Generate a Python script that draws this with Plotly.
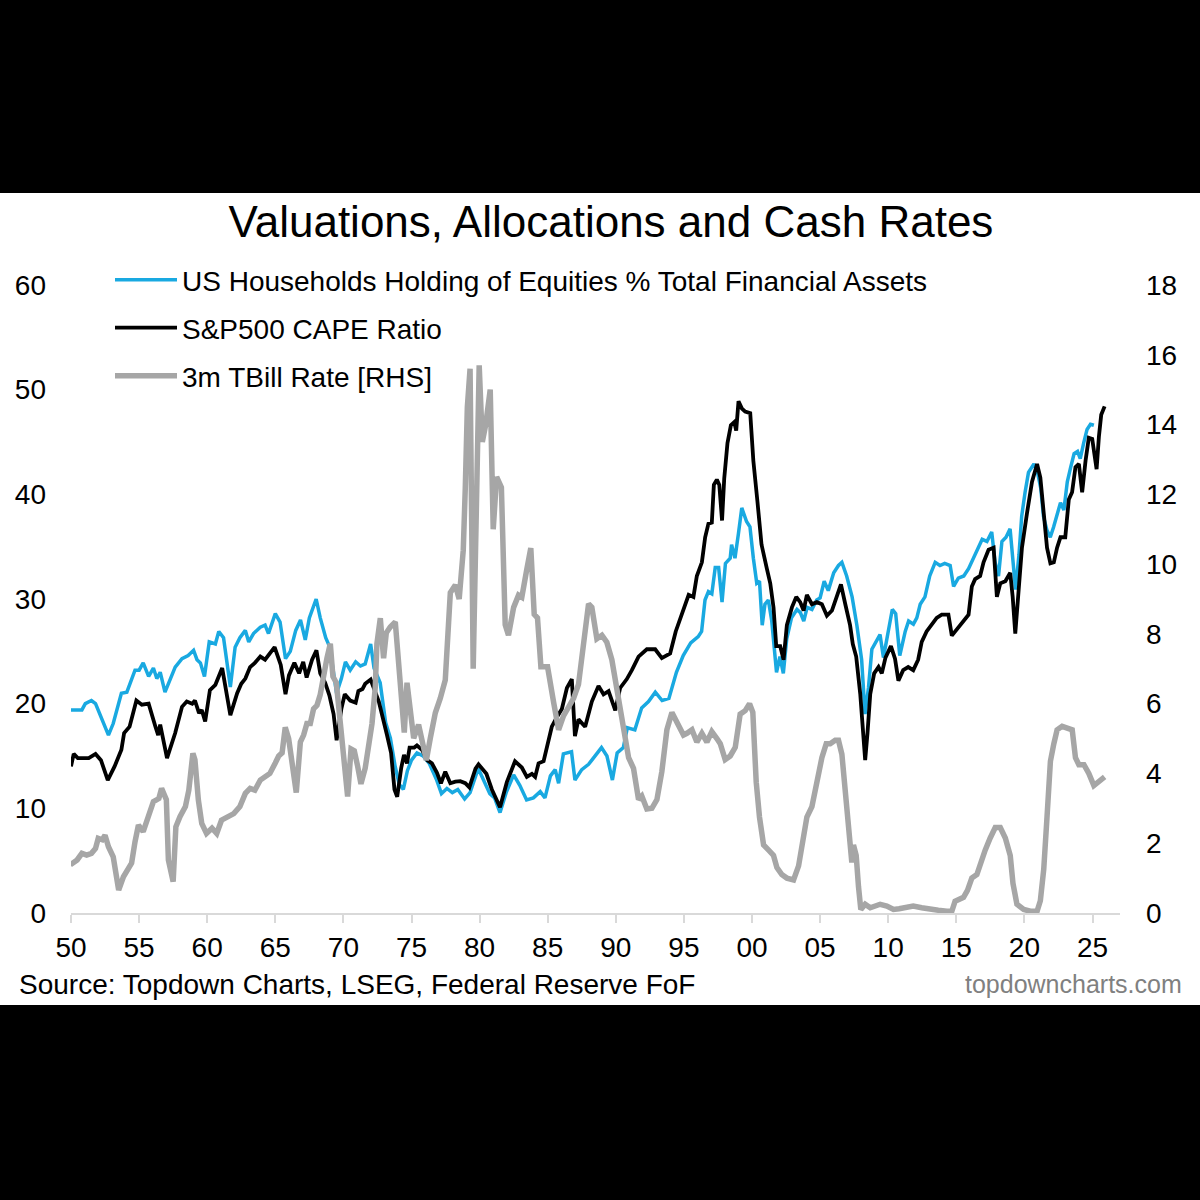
import plotly.graph_objects as go

# US households' equity holdings as % of total financial assets (left axis)
hh_years = [
    1949.95, 1950.8, 1951.05, 1951.5, 1951.8, 1952.15, 1952.75, 1953.1, 1953.7, 1954.1,
    1954.7, 1955.0, 1955.3, 1955.7, 1956.05, 1956.3, 1956.55, 1956.9, 1957.65, 1958.15,
    1958.6, 1959.0, 1959.25, 1959.5, 1959.8, 1960.15, 1960.6, 1960.85, 1961.2, 1961.7,
    1962.05, 1962.4, 1962.8, 1963.05, 1963.4, 1963.9, 1964.25, 1964.5, 1965.0, 1965.35,
    1965.75, 1966.1, 1966.5, 1966.85, 1967.2, 1967.5, 1968.0, 1968.3, 1968.7, 1969.0,
    1969.25, 1969.5, 1969.85, 1970.15, 1970.5, 1970.9, 1971.25, 1971.6, 1972.0, 1972.25,
    1972.7, 1973.1, 1973.45, 1973.8, 1974.1, 1974.4, 1974.7, 1975.0, 1975.4, 1975.85,
    1976.3, 1976.85, 1977.2, 1977.6, 1978.0, 1978.4, 1978.9, 1979.3, 1979.9, 1980.4,
    1980.75, 1981.1, 1981.5, 1981.95, 1982.5, 1982.95, 1983.45, 1983.95, 1984.45, 1984.8,
    1985.2, 1985.55, 1985.8, 1986.15, 1986.75, 1987.0, 1987.5, 1988.0, 1988.5, 1988.95,
    1989.35, 1989.75, 1990.1, 1990.55, 1990.85, 1991.4, 1991.9, 1992.4, 1992.9, 1993.4,
    1993.9, 1994.45, 1994.95, 1995.5, 1996.05, 1996.3, 1996.55, 1996.8, 1997.05, 1997.3,
    1997.55, 1997.8, 1998.05, 1998.4, 1998.5, 1998.75, 1999.0, 1999.25, 1999.6, 1999.85,
    2000.1, 2000.35, 2000.55, 2000.75, 2000.95, 2001.2, 2001.45, 2001.8, 2002.05, 2002.3,
    2002.55, 2002.9, 2003.3, 2003.55, 2003.8, 2004.05, 2004.4, 2004.75, 2005.0, 2005.3,
    2005.6, 2006.0, 2006.35, 2006.6, 2006.95, 2007.35, 2007.7, 2008.05, 2008.3, 2008.55,
    2008.8, 2009.15, 2009.4, 2009.65, 2010.0, 2010.3, 2010.55, 2010.85, 2011.25, 2011.5,
    2011.85, 2012.1, 2012.35, 2012.7, 2013.05, 2013.45, 2013.8, 2014.15, 2014.55, 2014.8,
    2015.15, 2015.55, 2015.9, 2016.25, 2016.6, 2016.9, 2017.25, 2017.6, 2017.85, 2018.1,
    2018.35, 2018.65, 2018.95, 2019.2, 2019.35, 2019.6, 2019.8, 2020.05, 2020.3, 2020.7,
    2020.95, 2021.2, 2021.4, 2021.65, 2021.9, 2022.15, 2022.4, 2022.65, 2022.9, 2023.15,
    2023.4, 2023.65, 2023.9, 2024.1, 2024.35, 2024.6, 2024.85, 2025.1,
]
hh_equity = [
    19.4, 19.4, 20.0, 20.3, 20.0, 18.9, 17.0, 18.1, 21.0, 21.1,
    23.2, 23.2, 23.9, 22.6, 23.4, 22.4, 23.0, 21.1, 23.5, 24.3,
    24.6, 25.1, 24.2, 23.9, 22.6, 25.9, 25.7, 26.9, 26.3, 21.6,
    25.4, 26.3, 27.0, 25.9, 26.7, 27.3, 27.5, 26.7, 28.6, 27.8,
    24.3, 25.0, 27.0, 28.0, 26.1, 28.2, 30.0, 28.2, 26.3, 25.4,
    23.4, 21.0, 22.4, 24.0, 23.2, 24.0, 23.6, 23.8, 25.7, 23.4,
    22.0, 18.2, 16.7, 14.0, 12.3, 11.8, 13.6, 14.6, 15.3, 15.0,
    14.3, 12.7, 11.4, 11.9, 11.5, 11.8, 10.9, 11.5, 13.8, 12.4,
    11.4, 11.0, 9.6, 11.5, 13.2, 12.2, 10.8, 11.0, 11.6, 11.0,
    13.1, 13.7, 12.4, 15.2, 15.4, 12.7, 13.7, 14.2, 15.0, 15.8,
    15.0, 12.7, 15.3, 15.8, 17.7, 17.5, 19.6, 20.2, 21.1, 20.3,
    20.5, 23.0, 24.6, 25.8, 26.4, 26.9, 29.9, 30.7, 30.5, 33.0,
    33.0, 29.7, 33.4, 33.9, 35.2, 33.9, 36.2, 38.7, 37.4, 36.9,
    33.9, 31.5, 31.7, 27.5, 29.5, 29.9, 27.9, 23.0, 24.5, 22.9,
    26.2, 28.2, 29.0, 28.7, 27.9, 29.2, 29.0, 29.9, 30.1, 31.7,
    30.8, 32.5, 33.2, 33.5, 32.2, 30.2, 27.5, 24.2, 19.0, 21.5,
    25.2, 26.1, 26.6, 24.4, 27.0, 29.0, 28.6, 24.6, 26.9, 27.9,
    27.6, 28.2, 29.5, 30.2, 32.2, 33.5, 33.2, 33.4, 33.2, 31.2,
    32.0, 32.2, 32.9, 33.9, 34.9, 35.7, 35.5, 36.4, 33.5, 32.2,
    35.5, 35.9, 36.7, 33.5, 30.9, 34.2, 37.9, 40.2, 42.1, 42.9,
    42.2, 40.6, 37.9, 36.6, 35.9, 36.9, 38.2, 39.2, 38.5, 41.2,
    42.6, 43.9, 44.1, 43.4, 44.9, 46.2, 46.7, 46.6,
]

# S&P500 CAPE ratio (left axis)
cape_years = [
    1950.0, 1950.2, 1950.5, 1951.3, 1951.8, 1952.2, 1952.7, 1953.2, 1953.7, 1953.9,
    1954.3, 1954.8, 1955.2, 1955.7, 1956.2, 1956.4, 1956.55, 1957.05, 1957.65, 1958.15,
    1958.5, 1958.9, 1959.1, 1959.4, 1959.6, 1959.85, 1960.2, 1960.6, 1961.1, 1961.45,
    1961.7, 1962.2, 1962.5, 1962.8, 1963.15, 1963.5, 1963.9, 1964.25, 1964.5, 1964.95,
    1965.4, 1965.75, 1966.0, 1966.4, 1966.75, 1967.05, 1967.3, 1967.7, 1968.02, 1968.3,
    1968.66, 1968.97, 1969.28, 1969.5, 1969.85, 1970.1, 1970.5, 1970.9, 1971.1, 1971.4,
    1971.6, 1972.0, 1972.6, 1972.95, 1973.2, 1973.5, 1973.75, 1973.95, 1974.25, 1974.45,
    1974.67, 1974.86, 1975.2, 1975.4, 1975.77, 1976.15, 1976.5, 1976.87, 1977.16, 1977.48,
    1977.85, 1978.22, 1978.58, 1978.95, 1979.25, 1979.7, 1979.92, 1980.5, 1980.9, 1981.5,
    1982.0, 1982.6, 1983.1, 1983.47, 1983.84, 1984.08, 1984.33, 1984.7, 1984.94, 1985.3,
    1985.67, 1986.04, 1986.41, 1986.77, 1987.0, 1987.26, 1987.75, 1988.24, 1988.73, 1989.1,
    1989.47, 1989.96, 1990.32, 1990.81, 1991.18, 1991.67, 1992.28, 1992.89, 1993.38, 1993.99,
    1994.4, 1994.73, 1995.1, 1995.35, 1995.7, 1995.95, 1996.32, 1996.56, 1996.8, 1997.05,
    1997.2, 1997.42, 1997.6, 1997.8, 1997.96, 1998.2, 1998.45, 1998.7, 1998.84, 1999.01,
    1999.26, 1999.5, 1999.87, 2000.1, 2000.4, 2000.7, 2001.09, 2001.34, 2001.58, 2001.78,
    2002.07, 2002.32, 2002.56, 2002.93, 2003.25, 2003.54, 2003.79, 2004.03, 2004.4, 2004.76,
    2005.13, 2005.5, 2005.87, 2006.23, 2006.53, 2006.85, 2007.2, 2007.4, 2007.65, 2007.95,
    2008.14, 2008.31, 2008.48, 2008.68, 2008.97, 2009.29, 2009.53, 2009.8, 2010.2, 2010.5,
    2010.75, 2011.1, 2011.47, 2011.84, 2012.2, 2012.46, 2012.82, 2013.2, 2013.56, 2013.93,
    2014.42, 2014.67, 2014.9, 2015.28, 2015.65, 2015.9, 2016.14, 2016.38, 2016.75, 2017.0,
    2017.37, 2017.74, 2017.98, 2018.23, 2018.6, 2018.96, 2019.14, 2019.33, 2019.58, 2019.82,
    2020.19, 2020.56, 2020.93, 2021.17, 2021.42, 2021.66, 2021.91, 2022.16, 2022.4, 2022.65,
    2023.0, 2023.26, 2023.5, 2023.75, 2024.0, 2024.24, 2024.49, 2024.73, 2024.98, 2025.3,
    2025.47, 2025.64, 2025.89,
]
cape = [
    14.0, 15.2, 14.8, 14.8, 15.2, 14.6, 12.7, 14.0, 15.6, 17.2,
    17.8, 20.3, 19.9, 20.0, 17.8, 17.0, 18.0, 14.8, 17.2, 19.7,
    20.2, 20.0, 20.3, 19.1, 19.4, 18.3, 21.3, 21.8, 23.4, 20.8,
    18.9, 21.0, 21.9, 22.4, 23.5, 23.9, 24.5, 24.2, 24.6, 25.4,
    23.7, 20.9, 22.7, 23.9, 22.9, 24.0, 22.5, 24.2, 25.1, 22.9,
    22.0, 20.8, 19.0, 16.5, 19.5, 20.9, 20.3, 20.1, 21.2, 21.4,
    21.9, 22.3, 20.2, 18.1, 17.0, 15.3, 11.8, 11.1, 13.9, 15.1,
    14.3, 15.8, 15.8, 16.0, 15.6, 14.6, 14.3, 13.4, 12.4, 13.5,
    12.4, 12.55, 12.6, 12.4, 12.0, 13.8, 14.2, 13.3, 11.8, 10.1,
    12.5, 14.5, 13.9, 13.0, 13.3, 13.0, 14.3, 14.5, 15.8, 17.8,
    18.7, 19.5, 21.5, 22.35, 16.9, 18.5, 17.8, 20.2, 21.7, 20.9,
    21.2, 19.35, 21.5, 22.35, 23.2, 24.5, 25.2, 25.2, 24.35, 24.8,
    26.9, 28.2, 29.5, 30.4, 30.2, 32.2, 33.5, 35.9, 37.2, 37.3,
    40.9, 41.4, 40.9, 37.5, 41.5, 44.9, 46.6, 46.9, 46.1, 48.9,
    48.2, 47.9, 47.75, 43.2, 39.3, 35.2, 32.9, 31.5, 29.2, 25.5,
    25.5, 24.2, 27.5, 29.2, 30.2, 29.7, 28.9, 30.4, 29.5, 29.7,
    29.5, 28.4, 28.9, 30.2, 31.4, 29.5, 27.5, 25.7, 24.5, 20.9,
    16.8, 14.6, 17.2, 20.9, 22.9, 23.5, 22.9, 24.4, 25.5, 24.3,
    22.2, 23.2, 23.5, 23.2, 24.2, 25.9, 26.9, 27.5, 28.2, 28.5,
    28.5, 26.5, 26.9, 27.5, 28.2, 28.5, 31.2, 31.9, 32.2, 33.5,
    34.7, 34.9, 30.2, 31.5, 31.7, 32.5, 30.2, 26.7, 30.9, 34.9,
    38.2, 41.2, 42.9, 41.6, 38.2, 34.9, 33.4, 33.5, 34.9, 35.9,
    35.9, 39.5, 40.2, 42.6, 42.9, 40.2, 43.2, 45.4, 45.3, 42.4,
    45.5, 47.6, 48.4,
]

# 3m TBill rate (right axis)
tbill_years = [
    1949.95, 1950.45, 1950.8, 1951.15, 1951.5, 1951.8, 1952.0, 1952.3, 1952.5, 1952.75,
    1953.1, 1953.5, 1953.85, 1954.2, 1954.45, 1954.7, 1954.95, 1955.3, 1955.7, 1956.05,
    1956.45, 1956.65, 1957.0, 1957.15, 1957.5, 1957.7, 1958.0, 1958.4, 1958.65, 1958.95,
    1959.1, 1959.35, 1959.6, 1959.95, 1960.35, 1960.7, 1961.05, 1961.45, 1961.95, 1962.4,
    1962.8, 1963.15, 1963.5, 1963.9, 1964.25, 1964.6, 1965.0, 1965.25, 1965.5, 1965.73,
    1965.98, 1966.22, 1966.54, 1966.84, 1967.08, 1967.32, 1967.57, 1967.81, 1968.06, 1968.3,
    1968.55, 1968.79, 1969.04, 1969.23, 1969.48, 1969.77, 1970.02, 1970.31, 1970.56, 1970.8,
    1971.05, 1971.29, 1971.6, 1971.85, 1972.1, 1972.34, 1972.46, 1972.71, 1972.95, 1973.15,
    1973.44, 1973.81, 1974.18, 1974.47, 1974.67, 1974.86, 1975.16, 1975.52, 1975.77, 1976.09,
    1976.38, 1976.75, 1977.11, 1977.48, 1977.85, 1978.22, 1978.5, 1978.8, 1978.95, 1979.1,
    1979.3, 1979.53, 1979.97, 1980.2, 1980.45, 1980.78, 1981.0, 1981.25, 1981.6, 1981.88,
    1982.12, 1982.5, 1982.86, 1983.1, 1983.47, 1983.76, 1984.01, 1984.25, 1984.5, 1984.99,
    1985.43, 1985.8, 1986.16, 1986.53, 1986.9, 1987.26, 1987.63, 1988.0, 1988.24, 1988.61,
    1988.98, 1989.34, 1989.71, 1990.08, 1990.57, 1990.94, 1991.3, 1991.67, 1991.91, 1992.28,
    1992.65, 1993.02, 1993.38, 1993.75, 1994.12, 1994.48, 1994.97, 1995.22, 1995.59, 1995.95,
    1996.32, 1996.69, 1997.05, 1997.42, 1997.67, 1998.03, 1998.4, 1998.77, 1999.13, 1999.5,
    1999.82, 2000.06, 2000.31, 2000.55, 2000.85, 2001.22, 2001.58, 2001.83, 2002.19, 2002.56,
    2003.05, 2003.42, 2003.78, 2004.03, 2004.4, 2004.76, 2005.13, 2005.45, 2005.74, 2006.11,
    2006.35, 2006.6, 2006.92, 2007.16, 2007.33, 2007.45, 2007.65, 2007.82, 2007.99, 2008.31,
    2008.68, 2009.05, 2009.41, 2009.9, 2010.39, 2010.8, 2011.23, 2011.84, 2012.46, 2013.07,
    2013.68, 2014.3, 2014.67, 2014.91, 2015.16, 2015.53, 2015.82, 2016.14, 2016.51, 2016.8,
    2017.12, 2017.49, 2017.86, 2018.23, 2018.6, 2018.96, 2019.16, 2019.45, 2019.95, 2020.44,
    2020.93, 2021.17, 2021.42, 2021.66, 2021.91, 2022.16, 2022.4, 2022.77, 2023.14, 2023.51,
    2023.75, 2024.0, 2024.37, 2024.73, 2025.1, 2025.47, 2025.89,
]
tbill = [
    1.38, 1.52, 1.71, 1.66, 1.71, 1.85, 2.14, 2.10, 2.23, 1.90,
    1.61, 0.66, 1.04, 1.28, 1.43, 2.04, 2.52, 2.33, 2.76, 3.19,
    3.28, 3.57, 3.25, 1.52, 0.90, 2.47, 2.76, 3.05, 3.52, 4.58,
    4.39, 3.24, 2.57, 2.28, 2.43, 2.28, 2.66, 2.76, 2.85, 3.05,
    3.43, 3.57, 3.52, 3.81, 3.90, 4.00, 4.30, 4.50, 4.59, 5.32,
    5.00, 4.28, 3.45, 4.90, 5.10, 5.43, 5.43, 5.85, 5.95, 6.26,
    6.89, 7.30, 7.72, 6.78, 6.60, 5.43, 4.38, 3.34, 4.70, 4.65,
    4.20, 3.70, 4.15, 4.90, 5.43, 6.47, 7.72, 8.45, 7.30, 8.03,
    8.20, 8.34, 6.47, 5.17, 6.60, 5.85, 5.01, 5.40, 4.90, 4.38,
    5.01, 5.74, 6.15, 6.68, 9.18, 9.40, 9.00, 10.40, 12.20, 14.50,
    15.60, 7.00, 15.70, 13.50, 14.00, 15.00, 11.00, 12.50, 12.20, 8.26,
    7.96, 8.76, 9.11, 9.05, 9.86, 10.46, 8.56, 8.46, 7.06, 7.06,
    6.05, 5.25, 5.65, 5.90, 6.15, 6.55, 7.66, 8.86, 8.76, 7.86,
    7.96, 7.76, 7.26, 6.46, 5.25, 4.45, 4.15, 3.25, 3.35, 2.98,
    3.00, 3.25, 4.05, 5.25, 5.75, 5.45, 5.10, 5.15, 5.25, 4.90,
    5.15, 4.90, 5.20, 5.00, 4.85, 4.40, 4.50, 4.75, 5.70, 5.80,
    6.00, 5.75, 3.75, 2.75, 1.95, 1.80, 1.65, 1.30, 1.10, 1.00,
    0.95, 1.35, 2.15, 2.75, 3.05, 3.75, 4.45, 4.85, 4.85, 4.95,
    4.95, 4.55, 3.25, 2.05, 1.45, 1.95, 1.65, 0.75, 0.10, 0.25,
    0.15, 0.20, 0.25, 0.20, 0.10, 0.12, 0.15, 0.20, 0.15, 0.10,
    0.08, 0.05, 0.05, 0.34, 0.40, 0.45, 0.65, 1.00, 1.10, 1.45,
    1.80, 2.15, 2.45, 2.45, 2.15, 1.65, 0.85, 0.25, 0.10, 0.05,
    0.05, 0.35, 1.25, 2.75, 4.35, 4.85, 5.25, 5.35, 5.30, 5.25,
    4.45, 4.25, 4.25, 4.00, 3.65, 3.75, 3.90,
]

tick_years = list(range(1950, 2030, 5))
tick_labels = ["50", "55", "60", "65", "70", "75", "80", "85",
               "90", "95", "00", "05", "10", "15", "20", "25"]

# page geometry (pixels)
W, H = 1200, 1200
ML, MR, MT, MB = 71, 80, 285, 287
PW, PH = W - ML - MR, H - MT - MB
FONT = "Arial, Liberation Sans, sans-serif"


def paper_x(px):
    return (px - ML) / PW


def paper_y(py):
    return (H - MB - py) / PH


fig = go.Figure()
fig.add_trace(go.Scatter(
    x=hh_years, y=hh_equity, mode="lines",
    name="US Households Holding of Equities % Total Financial Assets",
    line=dict(color="#19A9E1", width=3.5), legend="legend",
))
fig.add_trace(go.Scatter(
    x=cape_years, y=cape, mode="lines", name="S&P500 CAPE Ratio",
    line=dict(color="#000000", width=3.8), legend="legend2",
))
fig.add_trace(go.Scatter(
    x=tbill_years, y=tbill, mode="lines", name="3m TBill Rate [RHS]",
    line=dict(color="#A6A6A6", width=5.5), yaxis="y2", legend="legend3",
))

legend_style = dict(
    x=paper_x(110), xanchor="left", yanchor="middle", itemwidth=62,
    bgcolor="rgba(0,0,0,0)", font=dict(family=FONT, size=28, color="#000000"),
)
tick_font = dict(family=FONT, size=28, color="#000000")

fig.update_layout(
    width=W, height=H,
    margin=dict(l=ML, r=MR, t=MT, b=MB),
    paper_bgcolor="#000000",
    plot_bgcolor="#FFFFFF",
    font=dict(family=FONT, size=28, color="#000000"),
    title=dict(
        text="Valuations, Allocations and Cash Rates",
        x=611 / W, xanchor="center", y=1 - 222 / H, yanchor="middle",
        font=dict(family=FONT, size=44, color="#000000"),
    ),
    showlegend=True,
    legend=dict(legend_style, y=paper_y(280)),
    legend2=dict(legend_style, y=paper_y(328)),
    legend3=dict(legend_style, y=paper_y(376)),
    xaxis=dict(
        range=[1950, 1950 + PW / 13.62],
        tickvals=tick_years, ticktext=tick_labels,
        ticks="outside", ticklen=8, tickwidth=2, tickcolor="#D9D9D9",
        showline=True, linecolor="#D9D9D9", linewidth=2,
        showgrid=False, zeroline=False, ticklabelstandoff=0,
        tickfont=tick_font,
    ),
    yaxis=dict(
        range=[0, 60], tickvals=list(range(0, 61, 10)),
        showgrid=False, zeroline=False, showline=False,
        ticklabelstandoff=24, tickfont=tick_font,
    ),
    yaxis2=dict(
        range=[0, 18], tickvals=list(range(0, 19, 2)),
        overlaying="y", side="right",
        showgrid=False, zeroline=False, showline=False,
        ticklabelstandoff=25, tickfont=tick_font,
    ),
    # white card between the black bands
    shapes=[dict(
        type="rect", xref="paper", yref="paper", layer="below",
        x0=paper_x(0), x1=paper_x(W), y0=paper_y(1005), y1=paper_y(193),
        fillcolor="#FFFFFF", line=dict(width=0),
    )],
    annotations=[
        dict(
            text="Source: Topdown Charts, LSEG, Federal Reserve FoF",
            xref="paper", yref="paper", x=paper_x(17), y=paper_y(984),
            xanchor="left", yanchor="middle", showarrow=False,
            font=dict(family=FONT, size=28, color="#000000"),
        ),
        dict(
            text="topdowncharts.com",
            xref="paper", yref="paper", x=paper_x(1184), y=paper_y(984),
            xanchor="right", yanchor="middle", showarrow=False,
            font=dict(family=FONT, size=25, color="#808080"),
        ),
    ],
)

# the page's default body margin would shift the figure by 8px
fig.write_html(
    "out.html",
    config={"displayModeBar": False},
    post_script="document.body.style.margin='0';"
                "document.body.style.backgroundColor='#000';",
)
